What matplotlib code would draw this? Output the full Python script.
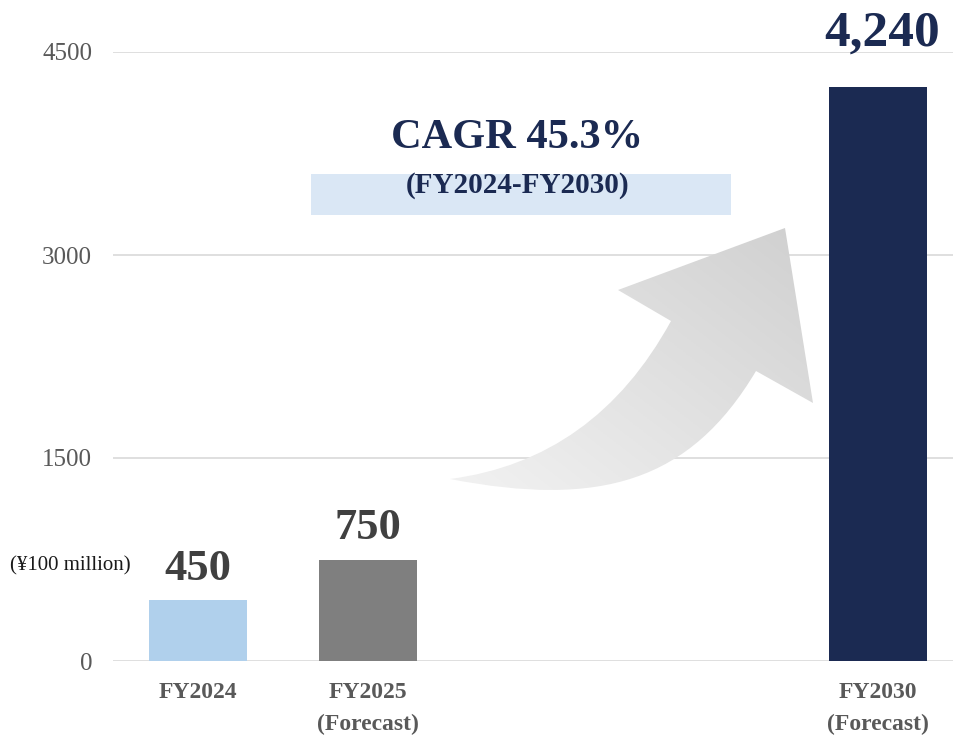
import matplotlib
matplotlib.use("Agg")
import matplotlib.pyplot as plt
import numpy as np
from matplotlib.path import Path
from matplotlib.patches import PathPatch, Rectangle
from matplotlib.colors import LinearSegmentedColormap

plt.rcParams['font.family'] = ['Liberation Serif', 'DejaVu Serif']

# ---- data ----
categories = ["FY2024", "FY2025\n(Forecast)", "FY2030\n(Forecast)"]
positions = [0, 1, 4]
values = [450, 750, 4240]
value_labels = ["450", "750", "4,240"]
bar_colors = ["#B0D0EC", "#7F7F7F", "#1B2A52"]
label_colors = ["#404040", "#404040", "#1B2A52"]
yticks = [0, 1500, 3000, 4500]
cagr_text = "CAGR 45.3%"
cagr_period = "(FY2024-FY2030)"
unit_text = "(¥100 million)"

W, H = 954, 737
fig = plt.figure(figsize=(W / 100, H / 100), dpi=100)
ax = fig.add_axes([113 / W, 1 - 661 / H, 1 - 113 / W, (661 - 52) / H])

ax.bar(positions, values, width=0.576, color=bar_colors, zorder=2)
ax.set_xlim(-0.5, 4.447)
ax.set_ylim(0, 4500)
ax.set_yticks(yticks)
ax.set_yticklabels([str(v) for v in yticks], fontsize=18, color="#595959")
ax.set_xticks(positions)
ax.set_xticklabels(categories, fontsize=17, fontweight="bold", color="#595959",
                   linespacing=1.7, va="top")
ax.tick_params(axis="both", length=0)
ax.tick_params(axis="y", pad=15)
ax.tick_params(axis="x", pad=15)
for s in ax.spines.values():
    s.set_visible(False)
ax.yaxis.grid(True, color="#D9D9D9", linewidth=1.2, zorder=0)
ax.set_axisbelow(True)

sizes = [32, 32, 37]
offsets = [8, 8, 22]
for p, v, lab, c, fs, off in zip(positions, values, value_labels, label_colors, sizes, offsets):
    ax.annotate(lab, xy=(p, v), xytext=(3 if p == 4 else 0, off), textcoords="offset points",
                ha="center", va="bottom", fontsize=fs, fontweight="bold", color=c,
                annotation_clip=False)

# ---- overlay in pixel coordinates ----
ov = fig.add_axes([0, 0, 1, 1], zorder=5)
ov.set_xlim(0, W)
ov.set_ylim(H, 0)
ov.axis("off")
ov.patch.set_alpha(0)

ov.add_patch(Rectangle((311, 174), 420, 41, facecolor="#DAE7F5", edgecolor="none", zorder=1))
ov.text(517, 138, cagr_text, ha="center", va="center", fontsize=30.5, fontweight="bold",
        color="#1B2A52", zorder=3)
ov.text(518, 185, cagr_period, ha="center", va="center", fontsize=21, fontweight="bold",
        color="#1B2A52", zorder=3)
ov.text(10, 566, unit_text, ha="left", va="center", fontsize=15, color="#1A1A1A")

# curved arrow
verts = [
    (450, 479),
    (595, 460), (671, 321),          # quad to inner notch upper
    (618, 290),                       # left barb
    (785, 228),                       # tip
    (813, 403),                       # right barb
    (756, 371),                       # inner notch lower
    (690, 482), (600, 508), (450, 479),  # cubic back to tail
    (450, 479),
]
codes = [Path.MOVETO, Path.CURVE3, Path.CURVE3, Path.LINETO, Path.LINETO, Path.LINETO,
         Path.LINETO, Path.CURVE4, Path.CURVE4, Path.CURVE4, Path.CLOSEPOLY]
arrow = PathPatch(Path(verts, codes), facecolor="none", edgecolor="none")
ov.add_patch(arrow)
gx, gy = np.meshgrid(np.linspace(0, 1, 200), np.linspace(0, 1, 200))
grad = (gx + (1 - gy)) / 2
cmap = LinearSegmentedColormap.from_list("g", ["#F3F3F3", "#D0D0D0"])
im = ov.imshow(grad, extent=(450, 815, 508, 228), cmap=cmap, origin="upper",
               aspect="auto", zorder=2, vmin=0, vmax=1)
im.set_clip_path(arrow)
ov.set_xlim(0, W)
ov.set_ylim(H, 0)

fig.savefig("out.png", dpi=100)
